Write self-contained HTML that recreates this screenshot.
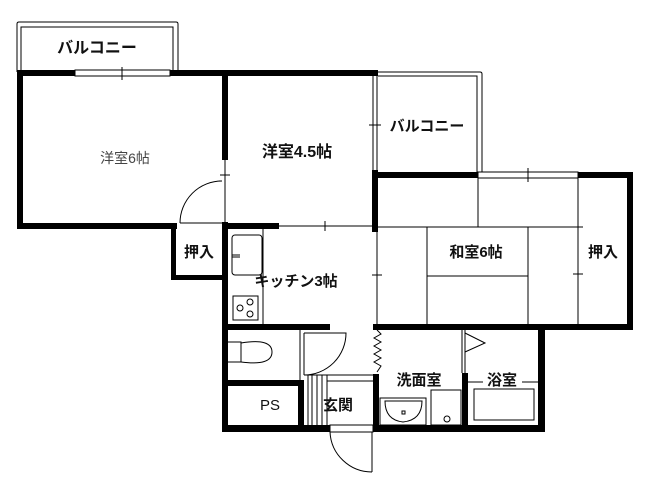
<!DOCTYPE html>
<html><head><meta charset="utf-8"><style>
html,body{margin:0;padding:0;background:#fff;}
svg{display:block;}
text{font-family:"Liberation Sans","Noto Sans CJK JP",sans-serif;fill:#111;font-weight:bold;}
</style></head><body>
<svg width="660" height="495" viewBox="0 0 660 495" xmlns="http://www.w3.org/2000/svg">
<g fill="none" stroke="#000" stroke-width="1">
<path d="M17 72 V24 Q17 22 19 22 H176 Q178 22 178 24 V72"/>
<path d="M21 72 V27 H173 V72"/>
<path d="M378 72 H480 Q482 72 482 74 V175"/>
<path d="M378 76 H477 V175"/>
<path d="M373 76 V170 M377 76 V170"/>
<rect x="75" y="70" width="95" height="6" fill="#fff"/>
<line x1="122" y1="67" x2="122" y2="80"/>
<rect x="478" y="172" width="100" height="6" fill="#fff"/>
<line x1="528" y1="168" x2="528" y2="182"/>
<line x1="225" y1="160" x2="225" y2="223"/>
<line x1="220" y1="175" x2="230" y2="175"/>
<line x1="279" y1="226" x2="373" y2="226"/>
<line x1="325" y1="221" x2="325" y2="231"/>
<line x1="377" y1="229" x2="377" y2="324"/>
<line x1="372" y1="275" x2="382" y2="275"/>
<line x1="369" y1="125" x2="381" y2="125"/>
<line x1="378" y1="227" x2="578" y2="227"/>
<line x1="478" y1="178" x2="478" y2="227"/>
<line x1="427" y1="227" x2="427" y2="324"/>
<line x1="528" y1="227" x2="528" y2="324"/>
<line x1="427" y1="276" x2="528" y2="276"/>
<line x1="578" y1="178" x2="578" y2="324"/>
<line x1="573" y1="227" x2="583" y2="227"/>
<line x1="573" y1="274" x2="583" y2="274"/>
<path d="M180 223 A42 42 0 0 1 222 181" />
<line x1="180" y1="223" x2="222" y2="223"/>
<line x1="219" y1="181" x2="222" y2="181"/>
<rect x="232" y="235" width="30" height="40" rx="3"/>
<line x1="232" y1="255" x2="240" y2="255"/><line x1="232" y1="257" x2="240" y2="257"/>
<line x1="263" y1="229" x2="263" y2="324"/>
<rect x="233" y="296" width="25" height="24"/>
<circle cx="240" cy="308" r="3"/><circle cx="250" cy="302" r="3"/><circle cx="250" cy="314" r="3"/>
<path d="M228 342 H241 V362 H228"/>
<path d="M241 343 Q272 338 272 352 Q272 366 241 362"/>
<line x1="300" y1="330" x2="300" y2="380"/>
<line x1="304" y1="333" x2="304" y2="375"/>
<path d="M304 333 H346 A42 42 0 0 1 304 375"/>
<line x1="304" y1="375" x2="373" y2="375"/>
<line x1="327" y1="381" x2="373" y2="381"/>
<line x1="308" y1="375" x2="308" y2="425"/><line x1="312" y1="375" x2="312" y2="425"/>
<line x1="317" y1="375" x2="317" y2="425"/><line x1="322" y1="375" x2="322" y2="425"/>
<line x1="327" y1="375" x2="327" y2="425"/>
<rect x="330" y="425" width="43" height="7" fill="#fff"/>
<line x1="372" y1="432" x2="372" y2="472"/>
<path d="M330 432 A42 42 0 0 0 372 472"/>
<path d="M377 330 L381 334 L374 338 L381 342 L374 346 L381 350 L374 354 L381 358 L374 362 L381 366 L377 372"/>
<rect x="380" y="398" width="46" height="27"/>
<path d="M385 401 H422 Q422 420 403 422 Q385 420 385 401 Z"/>
<rect x="402" y="411" width="3" height="3"/>
<rect x="431" y="390" width="30" height="35"/>
<circle cx="447" cy="419" r="3"/>
<line x1="462" y1="330" x2="462" y2="373"/><line x1="465" y1="330" x2="465" y2="373"/>
<path d="M465 333 L485 343 L465 352"/>
<line x1="468" y1="382" x2="483" y2="382"/><line x1="522" y1="382" x2="538" y2="382"/>
<rect x="474" y="389" width="60" height="31"/>
</g>
<g fill="#000">
<rect x="17" y="70" width="58" height="6"/>
<rect x="170" y="70" width="208" height="6"/>
<rect x="17" y="70" width="6" height="159"/>
<rect x="17" y="223" width="160" height="6"/>
<rect x="222" y="76" width="6" height="84"/>
<rect x="372" y="170" width="6" height="62"/>
<rect x="372" y="172" width="106" height="6"/>
<rect x="578" y="172" width="55" height="6"/>
<rect x="627" y="172" width="6" height="158"/>
<rect x="171" y="223" width="5" height="57"/>
<rect x="171" y="275" width="55" height="5"/>
<rect x="222" y="222" width="6" height="210"/>
<rect x="222" y="223" width="57" height="6"/>
<rect x="222" y="324" width="108" height="6"/>
<rect x="373" y="324" width="260" height="6"/>
<rect x="222" y="425" width="108" height="7"/>
<rect x="373" y="425" width="172" height="7"/>
<rect x="538" y="324" width="7" height="108"/>
<rect x="462" y="373" width="6" height="59"/>
<rect x="222" y="380" width="80" height="6"/>
<rect x="298" y="380" width="6" height="52"/>
<rect x="373" y="374" width="6" height="58"/>
</g>
<text x="97" y="53" font-size="16" text-anchor="middle">バルコニー</text>
<text x="427" y="131" font-size="15" text-anchor="middle">バルコニー</text>
<text x="125" y="163" font-size="14" text-anchor="middle" style="fill:#444;font-weight:normal">洋室6帖</text>
<text x="297" y="157" font-size="16" text-anchor="middle">洋室4.5帖</text>
<text x="199" y="257" font-size="15" text-anchor="middle">押入</text>
<text x="296" y="286" font-size="15" text-anchor="middle">キッチン3帖</text>
<text x="476" y="257" font-size="15" text-anchor="middle">和室6帖</text>
<text x="603" y="257" font-size="15" text-anchor="middle">押入</text>
<text x="419" y="385" font-size="15" text-anchor="middle">洗面室</text>
<text x="502" y="385" font-size="15" text-anchor="middle">浴室</text>
<text x="270" y="410" font-size="15" text-anchor="middle" style="font-weight:normal">PS</text>
<text x="338" y="410" font-size="15" text-anchor="middle">玄関</text>
</svg>
</body></html>
